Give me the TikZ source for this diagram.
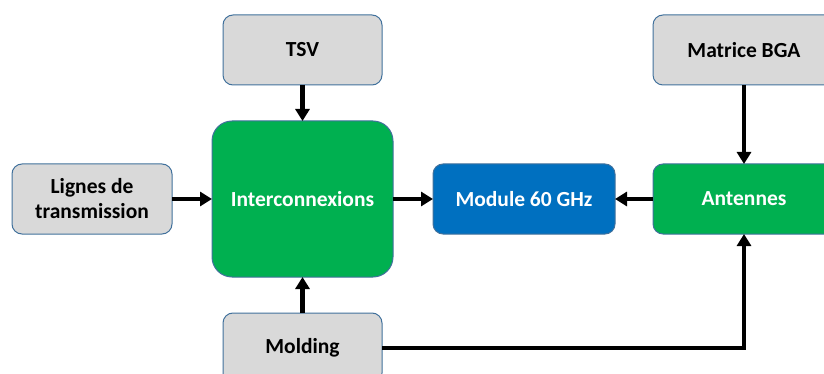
\documentclass[tikz,border=0pt]{standalone}
\usepackage{fontspec}
\setmainfont{Carlito}
\usetikzlibrary{arrows.meta}
\definecolor{grayfill}{HTML}{D9D9D9}
\definecolor{boxborder}{HTML}{41719C}
\definecolor{mygreen}{HTML}{00B050}
\definecolor{myblue}{HTML}{0070C0}
\begin{document}
\begin{tikzpicture}[x=1pt,y=-1pt,
  every node/.style={font=\fontsize{21.5}{25}\selectfont\bfseries, align=center, inner sep=0pt, outer sep=0pt},
  graybox/.style={draw=boxborder, line width=1pt, fill=grayfill, rounded corners=10pt, text=black},
  greenbox/.style={draw=boxborder, line width=1pt, fill=mygreen, rounded corners=10pt, text=white},
  bluebox/.style={draw=boxborder, line width=1pt, fill=myblue, rounded corners=10pt, text=white},
  conn/.style={line width=4.5pt, -{Triangle[length=12pt,width=14pt]}}]
\useasboundingbox (0,0) rectangle (824,374);
\node[graybox, minimum width=159pt, minimum height=70pt] (tsv) at (302.5,50) {TSV};
\node[greenbox, rounded corners=20pt, minimum width=181pt, minimum height=156pt] (inter) at (302.5,199) {Interconnexions};
\node[graybox, minimum width=160pt, minimum height=70pt] (lignes) at (92,199) {Lignes de\\transmission};
\node[graybox, minimum width=159pt, minimum height=70pt] (molding) at (302.5,348) {Molding};
\node[bluebox, minimum width=182pt, minimum height=70pt] (module) at (524,199) {Module 60 GHz};
\node[greenbox, minimum width=182pt, minimum height=70pt] (ant) at (744,199) {Antennes};
\node[graybox, minimum width=182pt, minimum height=70pt] (bga) at (744,50) {Matrice BGA};
\draw[conn] (tsv) -- (inter);
\draw[conn] (lignes) -- (inter);
\draw[conn] (molding) -- (inter);
\draw[conn] (inter) -- (module);
\draw[conn] (ant) -- (module);
\draw[conn] (bga) -- (ant);
\draw[conn] (molding.east) -- (ant.south |- molding.east) -- (ant.south);
\end{tikzpicture}
\end{document}
